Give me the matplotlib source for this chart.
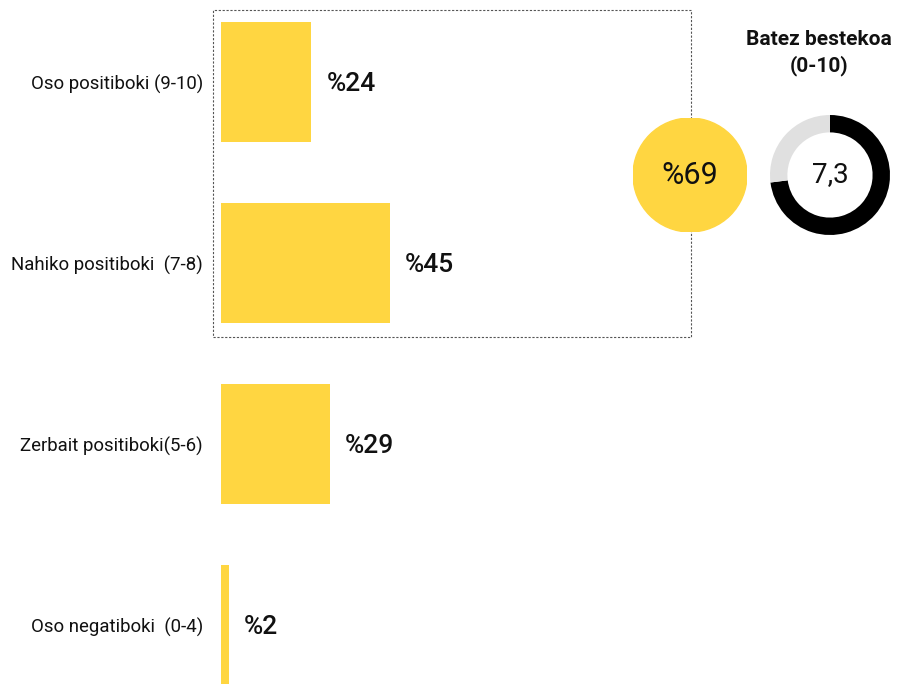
import matplotlib
matplotlib.use("Agg")
import matplotlib.pyplot as plt
from matplotlib.patches import Rectangle, Circle

plt.rcParams["font.family"] = ["Roboto", "DejaVu Sans"]

CATEGORIES = ["Oso positiboki (9-10)", "Nahiko positiboki  (7-8)",
              "Zerbait positiboki(5-6)", "Oso negatiboki  (0-4)"]
VALUES = [24, 45, 29, 2]
POSITIVE_SHARE = 69
AVERAGE = 7.3
SCALE_MAX = 10
AVG_TITLE = "Batez bestekoa\n(0-10)"

YELLOW = "#FFD641"
W, H = 897, 684


def fig_box(x0, y0, x1, y1):
    # pixel box (top-left origin) -> figure fraction rect
    return [x0 / W, 1 - y1 / H, (x1 - x0) / W, (y1 - y0) / H]


fig = plt.figure(figsize=(W / 100, H / 100), dpi=100)

# bars
ax = fig.add_axes(fig_box(221, 0, 596, H))
ax.patch.set_visible(False)
pos = list(range(len(VALUES)))
ax.barh(pos, VALUES, height=0.663, color=YELLOW)
ax.set_xlim(0, 100)
ax.set_ylim((H - 82) / 181, -82 / 181)
ax.set_yticks(pos)
ax.set_yticklabels(CATEGORIES, fontsize=13.4, color="#111111")
ax.tick_params(axis="y", length=0, pad=13)
ax.set_xticks([])
for s in ax.spines.values():
    s.set_visible(False)
for p, v in zip(pos, VALUES):
    ax.annotate(f"%{v}", (v, p), xytext=(11, -1.5), textcoords="offset points",
                ha="left", va="center", fontsize=19, fontweight="medium",
                color="#111111")

# dotted frame around the positive groups (behind the circle)
fig.patches.append(Rectangle((213 / W, 1 - 337 / H), 478 / W, 327 / H,
                             transform=fig.transFigure, fill=False,
                             edgecolor="#555555", linewidth=0.8,
                             linestyle=(0, (2, 1.5)), zorder=-1))

# yellow circle with total positive share
axc = fig.add_axes(fig_box(633, 118, 747, 232))
axc.add_patch(Circle((0, 0), 1, color=YELLOW))
axc.set_xlim(-1, 1)
axc.set_ylim(-1, 1)
axc.set_aspect("equal")
axc.axis("off")
axc.text(0, 0, f"%{POSITIVE_SHARE}", ha="center", va="center", fontsize=22,
         color="#111111")

# donut for average score
axd = fig.add_axes(fig_box(770, 115, 890, 235))
axd.patch.set_visible(False)
axd.pie([AVERAGE, SCALE_MAX - AVERAGE], colors=["#000000", "#E0E0E0"],
        startangle=90, counterclock=False,
        wedgeprops=dict(width=0.29, linewidth=0))
axd.set_xlim(-1, 1)
axd.set_ylim(-1, 1)
axd.set_aspect("equal")
axd.text(0, 0, f"{AVERAGE:.1f}".replace(".", ","), ha="center", va="center",
         fontsize=20, color="#111111")

fig.text(819 / W, 1 - 53 / H, AVG_TITLE, ha="center", va="center",
         fontsize=15, fontweight="bold", color="#111111", linespacing=1.35)

fig.savefig("out.png", dpi=100)
